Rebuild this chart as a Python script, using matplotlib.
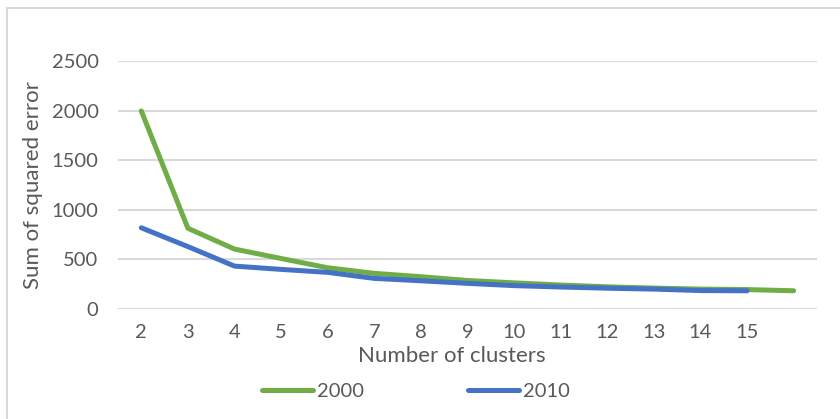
import matplotlib
matplotlib.use("Agg")
import matplotlib.pyplot as plt
from matplotlib.patches import Rectangle

plt.rcParams['font.family'] = ['Lato', 'DejaVu Sans']

# Elbow curve data
clusters_2000 = [2, 3, 4, 5, 6, 7, 8, 9, 10, 11, 12, 13, 14, 15, 16]
sse_2000 = [2000, 815, 605, 510, 416, 360, 326, 288, 264, 242, 224, 211, 201, 196, 184]
clusters_2010 = [2, 3, 4, 5, 6, 7, 8, 9, 10, 11, 12, 13, 14, 15]
sse_2010 = [820, 630, 433, 400, 370, 309, 285, 259, 236, 222, 210, 201, 186, 184]
tick_labels = ['2', '3', '4', '5', '6', '7', '8', '9', '10', '11', '12', '13', '14', '15']
y_ticks = [0, 500, 1000, 1500, 2000, 2500]

grey = '#595959'
grid = '#d9d9d9'

fig = plt.figure(figsize=(8.4, 4.19), dpi=100)
ax = fig.add_axes([118 / 840, 1 - 309 / 419, (817 - 118) / 840, (309 - 61.4) / 419])

l1, = ax.plot(clusters_2000, sse_2000, color='#70AD47', lw=3.6, solid_capstyle='round',
              solid_joinstyle='round', label='2000')
l2, = ax.plot(clusters_2010, sse_2010, color='#4472C4', lw=3.6, solid_capstyle='round',
              solid_joinstyle='round', label='2010')

ax.set_xlim(1.5, 16.5)
ax.set_ylim(0, 2500)
ax.set_yticks(y_ticks)
ax.set_yticklabels([str(v) for v in y_ticks])
ax.set_xticks(clusters_2010)
ax.set_xticklabels(tick_labels)
ax.tick_params(length=0, labelsize=14.5, labelcolor=grey)
ax.tick_params(axis='x', pad=11)
ax.tick_params(axis='y', pad=14)
ax.grid(axis='y', color=grid, lw=1.5)
ax.set_axisbelow(True)
for s in ax.spines.values():
    s.set_visible(False)

fig.text(452 / 840, 1 - 356 / 419, 'Number of clusters', ha='center', va='center',
         fontsize=16, color=grey)
fig.text(33 / 840, 1 - 185 / 419, 'Sum of squared error', ha='center', va='center',
         rotation=90, fontsize=16, color=grey)

fig.legend(handles=[l1, l2], loc='center', bbox_to_anchor=(416 / 840, 1 - 391 / 419),
           ncol=2, frameon=False, fontsize=14.5, labelcolor=grey, handlelength=2.5,
           handletextpad=0.2, columnspacing=5.2)

# chart frame
fig.patches.append(Rectangle((7 / 840, -0.1), 1.2, 0.1 + (1 - 8 / 419), transform=fig.transFigure,
                             fill=False, edgecolor=grid, lw=1.5))

fig.savefig('out.png', dpi=100, facecolor='white')
